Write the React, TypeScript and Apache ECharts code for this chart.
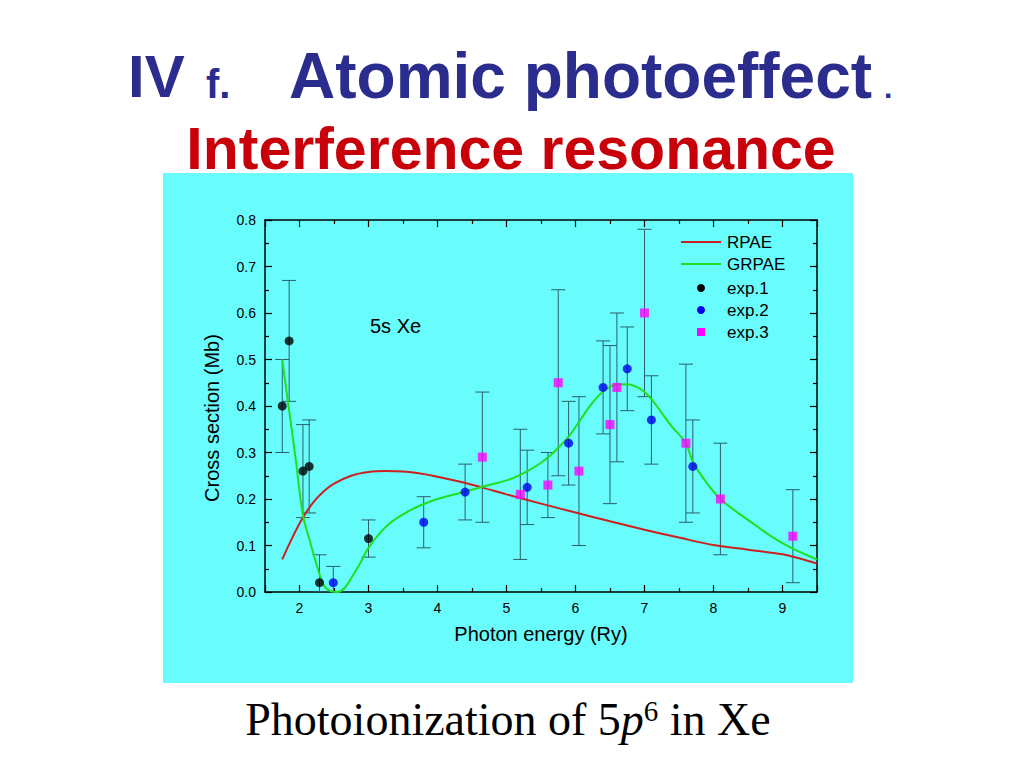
import React, { useEffect, useRef } from 'react';
import * as echarts from 'echarts';

// ---- Data ----
const rpaeX = [1.75, 1.9, 2.05, 2.2, 2.35, 2.5, 2.75, 3.0, 3.25, 3.5, 3.75, 4.0, 4.33, 4.64, 5.0, 5.5, 6.0, 6.5, 7.0, 7.5, 8.0, 8.5, 9.0, 9.25, 9.5];
const rpaeY = [0.07, 0.118, 0.16, 0.193, 0.216, 0.233, 0.25, 0.258, 0.26, 0.259, 0.255, 0.248, 0.237, 0.225, 0.21, 0.19, 0.171, 0.152, 0.134, 0.117, 0.101, 0.091, 0.081, 0.072, 0.061];

const grpaeX = [1.75, 1.85, 1.95, 2.05, 2.15, 2.25, 2.35, 2.45, 2.55, 2.65, 2.75, 2.88, 3.0, 3.25, 3.5, 3.75, 4.0, 4.33, 4.64, 5.0, 5.2, 5.5, 5.75, 5.9, 6.07, 6.25, 6.45, 6.6, 6.75, 6.9, 7.0, 7.1, 7.25, 7.4, 7.6, 7.7, 7.9, 8.1, 8.5, 9.0, 9.5];
const grpaeY = [0.5, 0.39, 0.28, 0.165, 0.11, 0.058, 0.015, 0.002, 0, 0.008, 0.03, 0.062, 0.095, 0.14, 0.167, 0.186, 0.2, 0.213, 0.226, 0.24, 0.252, 0.278, 0.31, 0.334, 0.37, 0.408, 0.437, 0.446, 0.447, 0.44, 0.43, 0.415, 0.385, 0.355, 0.32, 0.28, 0.235, 0.2, 0.155, 0.105, 0.07];

const exp1X = [1.75, 1.85, 2.05, 2.14, 2.29, 3.0];
const exp1Y = [0.4, 0.54, 0.26, 0.27, 0.02, 0.115];
const exp1Err = [0.1, 0.13, 0.1, 0.1, 0.06, 0.04];

const exp2X = [2.49, 3.8, 4.4, 5.3, 5.9, 6.4, 6.75, 7.1, 7.7];
const exp2Y = [0.02, 0.15, 0.215, 0.225, 0.32, 0.44, 0.48, 0.37, 0.27];
const exp2Err = [0.035, 0.055, 0.06, 0.08, 0.09, 0.1, 0.09, 0.095, 0.1];

const exp3X = [4.65, 5.2, 5.6, 5.75, 6.05, 6.5, 6.6, 7.0, 7.6, 8.1, 9.15];
const exp3Y = [0.29, 0.21, 0.23, 0.45, 0.26, 0.36, 0.44, 0.6, 0.32, 0.2, 0.12];
const exp3Err = [0.14, 0.14, 0.07, 0.2, 0.16, 0.17, 0.16, 0.18, 0.17, 0.12, 0.1];

const legendNames = ['RPAE', 'GRPAE', 'exp.1', 'exp.2', 'exp.3'];

const SANS = '"Liberation Sans", Arial, sans-serif';
const SERIF = '"Liberation Serif", "Times New Roman", serif';
const RED = '#cc2020';
const GREEN = '#1fe01f';
const BLUE = '#0000ee';
const MAGENTA = '#ff00ff';
const ERR = '#2d5f6b';
const CYAN = '#68fcfc';

const pairs = (xs: number[], ys: number[]) => xs.map((x, i) => [x, ys[i]]);
const triples = (xs: number[], ys: number[], es: number[]) => xs.map((x, i) => [x, ys[i], es[i]]);

export default function App() {
  const ref = useRef<HTMLDivElement>(null);
  useEffect(() => {
    const chart = echarts.init(ref.current!, null, { renderer: 'svg' });

    const lineStyle = { color: '#000', width: 1.5 };
    const tickStyle = { color: '#000', width: 1.2 };
    const xBase: any = {
      type: 'value', min: 1.5, max: 9.5, splitNumber: 8, minInterval: 1, maxInterval: 1,
      axisLine: { show: true, onZero: false, lineStyle },
      axisTick: { show: true, inside: true, length: 7, lineStyle: tickStyle },
      minorTick: { show: true, splitNumber: 2, length: 4, lineStyle: tickStyle },
      splitLine: { show: false }, minorSplitLine: { show: false },
    };
    const yBase: any = {
      type: 'value', min: 0, max: 0.8, interval: 0.1,
      axisLine: { show: true, onZero: false, lineStyle },
      axisTick: { show: true, inside: true, length: 7, lineStyle: tickStyle },
      minorTick: { show: true, splitNumber: 2, length: 4, lineStyle: tickStyle },
      splitLine: { show: false }, minorSplitLine: { show: false },
    };

    const errRender = (params: any, api: any) => {
      const x = api.value(0), y = api.value(1), e = api.value(2);
      const top = api.coord([x, y + e]);
      const bot = api.coord([x, Math.max(0, y - e)]);
      const hw = 7;
      const st = { stroke: ERR, lineWidth: 1 };
      return {
        type: 'group',
        children: [
          { type: 'line', shape: { x1: top[0], y1: top[1], x2: bot[0], y2: bot[1] }, style: st },
          { type: 'line', shape: { x1: top[0] - hw, y1: top[1], x2: top[0] + hw, y2: top[1] }, style: st },
          { type: 'line', shape: { x1: bot[0] - hw, y1: bot[1], x2: bot[0] + hw, y2: bot[1] }, style: st },
        ],
      };
    };

    const errData = [
      ...triples(exp1X, exp1Y, exp1Err),
      ...triples(exp2X, exp2Y, exp2Err),
      ...triples(exp3X, exp3Y, exp3Err),
    ];

    const lx = 681, lw = 40, ltx = 727;
    const ly = [242, 264, 288, 310, 332];

    const option: any = {
      animation: false,
      grid: { left: 265, right: 207, top: 220, bottom: 176, containLabel: false },
      xAxis: [
        {
          ...xBase, position: 'bottom',
          name: 'Photon energy (Ry)', nameLocation: 'middle', nameGap: 32,
          nameTextStyle: { fontSize: 20, color: '#000', fontFamily: SANS },
          axisLabel: {
            show: true, margin: 9, fontSize: 14, color: '#000', fontFamily: SANS,
            formatter: (v: number) => (Number.isInteger(v) ? String(v) : ''),
          },
        },
        { ...xBase, position: 'top', axisLabel: { show: false } },
      ],
      yAxis: [
        {
          ...yBase, position: 'left',
          axisLabel: {
            show: true, margin: 9, fontSize: 14, color: '#000', fontFamily: SANS,
            formatter: (v: number) => v.toFixed(1),
          },
        },
        { ...yBase, position: 'right', axisLabel: { show: false } },
      ],
      series: [
        {
          type: 'custom', name: 'errors', renderItem: errRender, data: errData,
          encode: { x: 0, y: 1 }, clip: true, z: 1,
        },
        {
          type: 'line', name: legendNames[0], data: pairs(rpaeX, rpaeY), showSymbol: false,
          smooth: 0.4, lineStyle: { color: RED, width: 2 }, z: 3,
        },
        {
          type: 'line', name: legendNames[1], data: pairs(grpaeX, grpaeY), showSymbol: false,
          smooth: 0.4, lineStyle: { color: GREEN, width: 2 }, z: 3,
        },
        {
          type: 'scatter', name: legendNames[2], data: pairs(exp1X, exp1Y), symbol: 'circle',
          symbolSize: 9, itemStyle: { color: '#000' }, z: 4,
        },
        {
          type: 'scatter', name: legendNames[3], data: pairs(exp2X, exp2Y), symbol: 'circle',
          symbolSize: 9, itemStyle: { color: BLUE }, z: 4,
        },
        {
          type: 'scatter', name: legendNames[4], data: pairs(exp3X, exp3Y), symbol: 'rect',
          symbolSize: 9, itemStyle: { color: MAGENTA }, z: 4,
        },
      ],
      graphic: [
        { type: 'rect', z: -10, shape: { x: 163, y: 173, width: 690, height: 510 }, style: { fill: CYAN } },
        // titles
        { type: 'text', z: 10, x: 128, y: 76, style: { text: 'IV', fontSize: 60, fontWeight: 'bold', fontFamily: SANS, fill: '#2b2d8e', align: 'left', verticalAlign: 'middle' } },
        { type: 'text', z: 10, x: 206, y: 84, style: { text: 'f.', fontSize: 40, fontWeight: 'bold', fontFamily: SANS, fill: '#2b2d8e', align: 'left', verticalAlign: 'middle' } },
        { type: 'text', z: 10, x: 289, y: 76, style: { text: 'Atomic photoeffect', fontSize: 64, fontWeight: 'bold', fontFamily: SANS, fill: '#2b2d8e', align: 'left', verticalAlign: 'middle' } },
        { type: 'text', z: 10, x: 884, y: 87, style: { text: '.', fontSize: 30, fontWeight: 'bold', fontFamily: SANS, fill: '#2b2d8e', align: 'left', verticalAlign: 'middle' } },
        { type: 'text', z: 10, x: 511, y: 149, style: { text: 'Interference resonance', fontSize: 59, fontWeight: 'bold', fontFamily: SANS, fill: '#c8000a', align: 'center', verticalAlign: 'middle' } },
        // y axis title
        { type: 'text', z: 10, x: 212, y: 418, rotation: Math.PI / 2, style: { text: 'Cross section (Mb)', fontSize: 20, fontFamily: SANS, fill: '#000', align: 'center', verticalAlign: 'middle' } },
        // caption
        {
          type: 'text', z: 10, x: 508, y: 719,
          style: {
            text: '{a|Photoionization of 5}{b|p}{c|6}{a| in Xe}',
            align: 'center', verticalAlign: 'middle',
            rich: {
              a: { fontSize: 46, fontFamily: SERIF, fill: '#000', color: '#000' },
              b: { fontSize: 46, fontFamily: SERIF, fontStyle: 'italic', fill: '#000', color: '#000' },
              c: { fontSize: 29, fontFamily: SERIF, fill: '#000', color: '#000', verticalAlign: 'top', padding: [0, 0, 14, 0] },
            },
          },
        },
        // in-plot label
        { type: 'text', z: 10, x: 370, y: 326, style: { text: '5s Xe', fontSize: 20, fontFamily: SANS, fill: '#000', align: 'left', verticalAlign: 'middle' } },
        // legend
        { type: 'line', z: 10, shape: { x1: lx, y1: ly[0], x2: lx + lw, y2: ly[0] }, style: { stroke: RED, lineWidth: 2 } },
        { type: 'line', z: 10, shape: { x1: lx, y1: ly[1], x2: lx + lw, y2: ly[1] }, style: { stroke: GREEN, lineWidth: 2 } },
        { type: 'circle', z: 10, shape: { cx: lx + 20, cy: ly[2], r: 4 }, style: { fill: '#000' } },
        { type: 'circle', z: 10, shape: { cx: lx + 20, cy: ly[3], r: 4 }, style: { fill: BLUE } },
        { type: 'rect', z: 10, shape: { x: lx + 16, y: ly[4] - 4, width: 8, height: 8 }, style: { fill: MAGENTA } },
        ...legendNames.map((n, i) => ({
          type: 'text', z: 10, x: ltx, y: ly[i],
          style: { text: n, fontSize: 17, fontFamily: SANS, fill: '#000', align: 'left', verticalAlign: 'middle' },
        })),
      ],
    };

    chart.setOption(option);
    return () => chart.dispose();
  }, []);
  return <div ref={ref} style={{ position: 'absolute', left: 0, top: 0, width: 1024, height: 768 }} />;
}
